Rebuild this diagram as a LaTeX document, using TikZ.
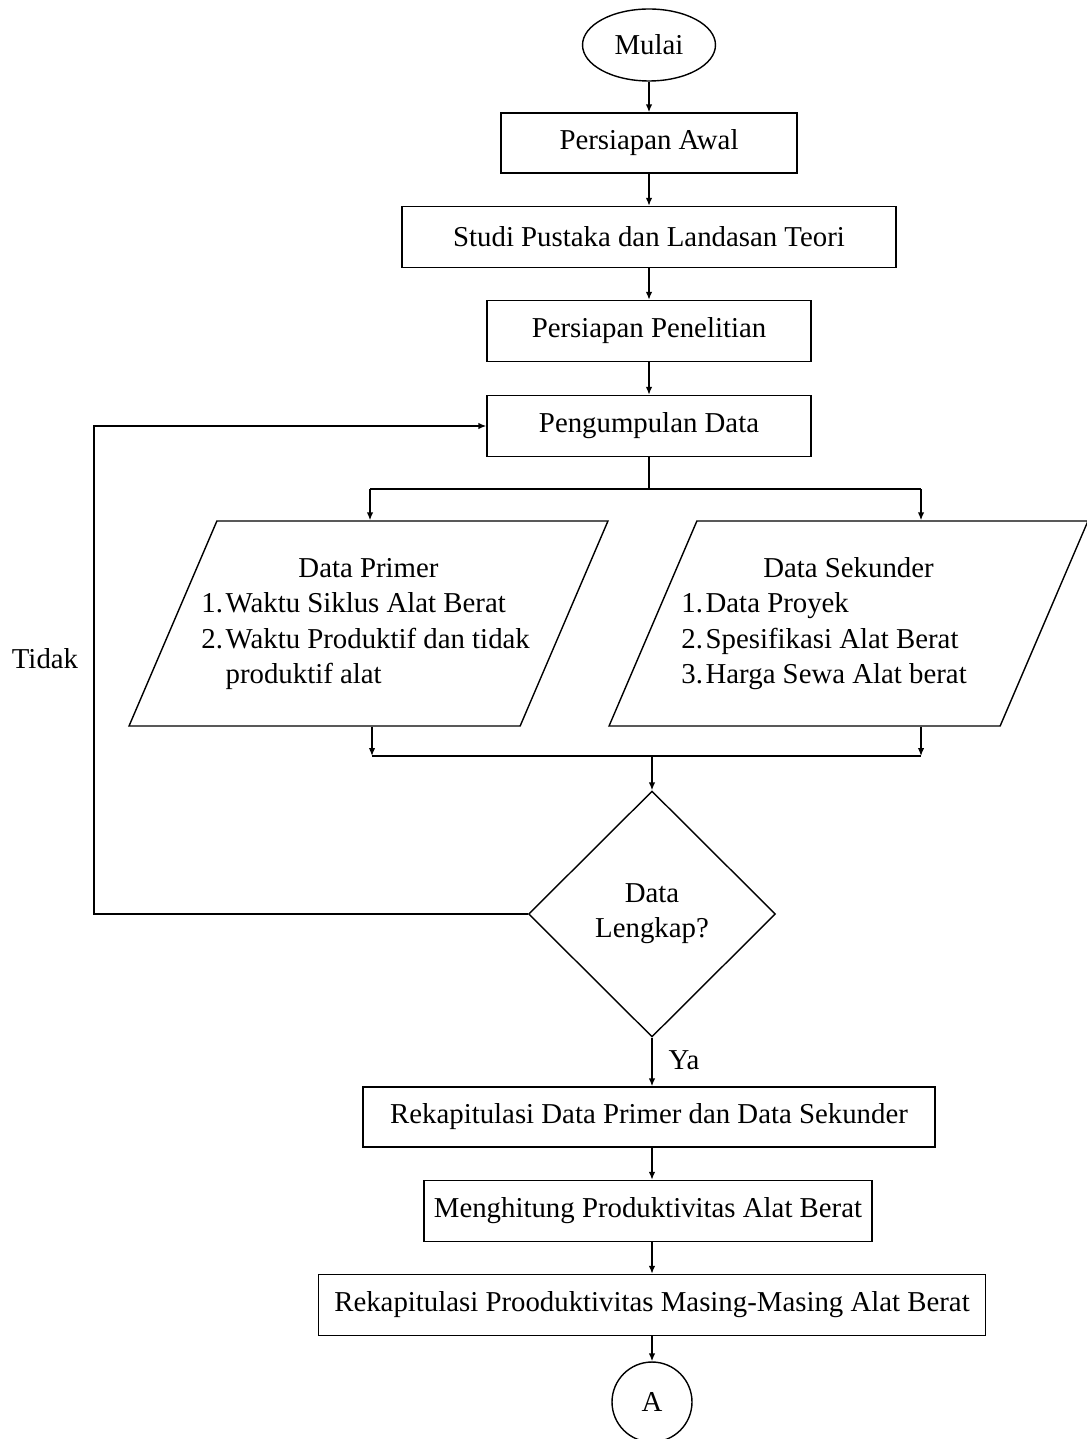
\documentclass[tikz,border=0pt]{standalone}
\usepackage{fontspec}
\setmainfont{Liberation Serif}
\usetikzlibrary{positioning,arrows.meta,shapes.geometric}
\newcommand{\flowfont}{\fontsize{16.4}{20}\selectfont}
\tikzset{
  proc/.style   ={draw, rectangle, minimum height=1.22cm, inner sep=2pt},
  term/.style   ={draw, ellipse, minimum width=2.66cm, minimum height=1.44cm, inner sep=0pt},
  io/.style     ={draw, trapezium, trapezium left angle=58, trapezium right angle=122,
                  trapezium stretches body, minimum width=9.58cm, minimum height=4.1cm, inner sep=0pt},
  decide/.style ={draw, diamond, aspect=1, minimum width=4.94cm, minimum height=4.92cm, inner sep=0pt, align=center},
  conn/.style   ={draw, circle, minimum size=1.6cm, inner sep=0pt},
  arr/.style    ={-{Latex[length=1.6mm, width=1.3mm]}},
}

\begin{document}
\begin{tikzpicture}[x=0.02cm, y=-0.02cm, font=\flowfont, line width=0.8pt]
  \useasboundingbox (0,0) rectangle (1086,1439);
  % main column
  \node[term] (mulai) at (649,45) {Mulai};
  \node[proc, minimum width=5.92cm, minimum height=1.2cm] (awal) at (649,143) {Persiapan Awal};
  \node[proc, minimum width=9.88cm] (studi) at (649,237) {Studi Pustaka dan Landasan Teori};
  \node[proc, minimum width=6.48cm] (siap) at (649,331) {Persiapan Penelitian};
  \node[proc, minimum width=6.48cm] (kumpul) at (649,426) {Pengumpulan Data};

  % data inputs
  \node[io] (primer) at (368.5,623.5)
    {\makebox[5.8cm]{\begin{tabular}{@{}r@{\hspace{1.5pt}}p{6.2cm}@{}}
      \multicolumn{2}{c}{Data Primer}\\
      1. & Waktu Siklus Alat Berat\\
      2. & Waktu Produktif dan tidak\\
         & produktif alat
     \end{tabular}}};
  \node[io] (sekunder) at (848.5,623.5)
    {\makebox[5.8cm]{\begin{tabular}{@{}r@{\hspace{1.5pt}}p{6.2cm}@{}}
      \multicolumn{2}{c}{Data Sekunder}\\
      1. & Data Proyek\\
      2. & Spesifikasi Alat Berat\\
      3. & Harga Sewa Alat berat
     \end{tabular}}};

  \node[decide] (lengkap) at (652,914) {Data\\Lengkap?};

  \node[proc, minimum width=11.44cm, minimum height=1.2cm] (rekap) at (649,1117) {Rekapitulasi Data Primer dan Data Sekunder};
  \node[proc, minimum width=8.96cm] (hitung) at (648,1211) {Menghitung Produktivitas Alat Berat};
  \node[proc, minimum width=13.34cm] (rekprod) at (652,1305) {Rekapitulasi Prooduktivitas Masing-Masing Alat Berat};
  \node[conn] (A) at (652,1402) {A};

  \node (tidak) at (45,659) {Tidak};
  \node (ya) at (684,1060) {Ya};

  % connectors
  \draw[arr] (mulai) -- (awal);
  \draw[arr] (awal) -- (studi);
  \draw[arr] (studi) -- (siap);
  \draw[arr] (siap) -- (kumpul);

  \coordinate (splitL) at (370,489);
  \coordinate (splitR) at (921,489);
  \draw (kumpul) -- (kumpul |- splitL);
  \draw (splitL) -- (splitR);
  \draw[arr] (splitL) -- (splitL |- primer.north);
  \draw[arr] (splitR) -- (splitR |- sekunder.north);

  \coordinate (joinL) at (372,756);
  \coordinate (joinR) at (921,756);
  \draw[arr] (joinL |- primer.south) -- (joinL);
  \draw[arr] (joinR |- sekunder.south) -- (joinR);
  \draw (joinL) -- (joinR);
  \draw[arr] (lengkap |- joinL) -- (lengkap.north);

  \coordinate (loop) at (94,426);
  \draw[arr] (lengkap.west) -| (loop) -- (kumpul.west);

  \draw[arr] (lengkap.south) -- (lengkap.south |- rekap.north);
  \draw[arr] (A |- rekap.south) -- (A |- hitung.north);
  \draw[arr] (A |- hitung.south) -- (A |- rekprod.north);
  \draw[arr] (rekprod) -- (A);
\end{tikzpicture}
\end{document}
